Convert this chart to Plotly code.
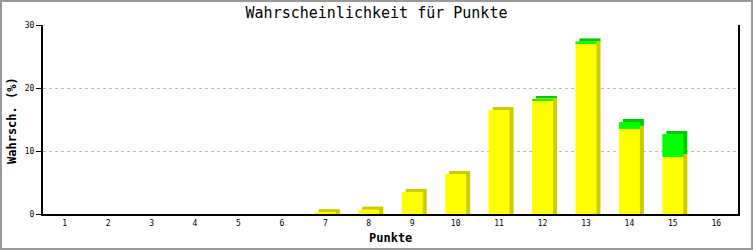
import plotly.graph_objects as go

categories = list(range(1, 17))
yellow = [0, 0, 0, 0, 0, 0, 0.3, 0.7, 3.5, 6.35, 16.5, 18.0, 27.1, 13.5, 9.05, 0]
green = [0, 0, 0, 0, 0, 0, 0, 0, 0, 0, 0, 0.2, 0.3, 1.1, 3.65, 0]
y_ticks = [0, 10, 20, 30]

W, H = 753, 250
L, R, T, B = 43, 15, 25, 36
PW, PH = W - L - R, H - T - B

bw = 21 / (PW / 16)          # bar width in category units
dx = 4 / (PW / 16)           # depth shift right
dy = 3 / (PH / 30)           # depth shift up

def nz(vals, extra=0):
    return [v + extra if v > 0 else None for v in vals]

fig = go.Figure()
# depth (shadow) faces
fig.add_bar(x=categories, y=nz(yellow, dy), base=0, width=bw, offset=-bw / 2 + dx,
            marker=dict(color="#cccc00", line=dict(width=0)), hoverinfo="skip")
fig.add_bar(x=categories, y=nz(green), base=[y + dy for y in yellow], width=bw,
            offset=-bw / 2 + dx, marker=dict(color="#00cc00", line=dict(width=0)),
            hoverinfo="skip")
# front faces
fig.add_bar(x=categories, y=nz(yellow), base=0, width=bw, offset=-bw / 2,
            marker=dict(color="#ffff00", line=dict(width=0)))
fig.add_bar(x=categories, y=nz(green), base=yellow, width=bw, offset=-bw / 2,
            marker=dict(color="#00ff00", line=dict(width=0)))

mono = "DejaVu Sans Mono"

def px(x):
    return (x - L) / PW

def py(y):
    return (H - B - y) / PH

fig.update_layout(
    width=W, height=H, barmode="overlay", showlegend=False,
    margin=dict(l=L, r=R, t=T, b=B, pad=0),
    paper_bgcolor="white", plot_bgcolor="white",
    title=dict(text="Wahrscheinlichkeit für Punkte", x=0.5, xref="container",
               y=1 - 13 / H, yref="container", xanchor="center", yanchor="middle",
               font=dict(family=mono, size=15, color="black")),
    xaxis=dict(range=[0.5, 16.5], tickmode="array", tickvals=categories,
               ticktext=[str(c) for c in categories], ticks="", showgrid=False,
               showline=True, linecolor="black", linewidth=2, zeroline=False,
               tickfont=dict(family=mono, size=8, color="black")),
    yaxis=dict(range=[0, 30], tickmode="array", tickvals=y_ticks,
               ticktext=[str(v) for v in y_ticks], ticks="outside", ticklen=5,
               tickcolor="black", tickwidth=1, showline=True, linecolor="black",
               linewidth=2, mirror=True, showgrid=True, gridcolor="#bbbbbb",
               griddash="dot", gridwidth=1, zeroline=False,
               tickfont=dict(family=mono, size=8, color="black")),
    annotations=[
        dict(text="<b>Punkte</b>", x=px(390), y=py(238), xref="paper", yref="paper",
             showarrow=False, xanchor="center", yanchor="middle",
             font=dict(family=mono, size=12, color="black")),
        dict(text="<b>Wahrsch. (%)</b>", x=px(12), y=py(121), xref="paper", yref="paper",
             showarrow=False, xanchor="center", yanchor="middle", textangle=-90,
             font=dict(family=mono, size=12, color="black")),
    ],
    shapes=[dict(type="rect", xref="paper", yref="paper",
                 x0=px(1), x1=px(752), y0=py(249), y1=py(1),
                 line=dict(color="#999999", width=2), fillcolor="rgba(0,0,0,0)",
                 layer="above")],
)

fig.write_html("out.html")
